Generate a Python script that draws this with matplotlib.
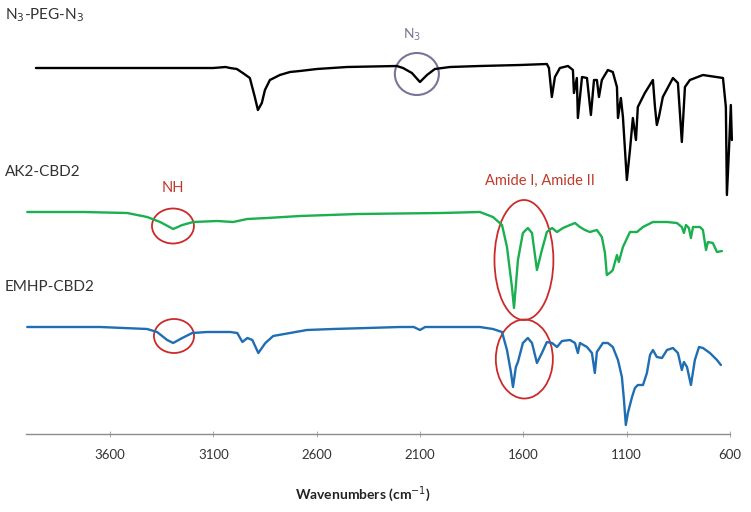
import matplotlib
matplotlib.use("Agg")
import matplotlib.pyplot as plt
from matplotlib.patches import Ellipse

plt.rcParams["font.family"] = ["Lato", "DejaVu Sans"]

# wavenumber [cm-1] and offset intensity [a.u.]
peg_wn = [3958, 3500, 3100, 3040, 3019, 2986, 2957, 2923, 2899, 2884, 2865,
          2850, 2826, 2778, 2729, 2681, 2599, 2453, 2212, 2182, 2139, 2100,
          2066, 2028, 1955, 1810, 1616, 1486, 1476, 1462, 1447, 1423, 1384,
          1360, 1355, 1341, 1336, 1316, 1292, 1273, 1258, 1244, 1234, 1220,
          1191, 1167, 1147, 1142, 1128, 1118, 1099, 1084, 1070, 1055, 1046,
          1012, 973, 963, 954, 944, 925, 876, 852, 833, 818, 794, 731, 634,
          620, 615, 605, 596, 591]
peg_val = [366, 366, 366, 367, 366, 365, 361, 356, 337, 324, 331,
           344, 354, 359, 362, 363, 365, 367, 368, 366, 361, 352,
           359, 365, 367, 368, 369, 370, 366, 337, 357, 366, 368,
           364, 341, 356, 316, 357, 356, 319, 354, 354, 337, 354,
           364, 362, 347, 316, 336, 317, 254, 284, 316, 294, 327,
           341, 354, 327, 309, 317, 337, 356, 351, 292, 347, 354, 359, 356,
           327, 239, 284, 329, 294]

ak2_wn = [4000, 3729, 3516, 3420, 3357, 3294, 3250, 3197, 3081, 3004, 2936,
          2840, 2680, 2400, 2000, 1810, 1747, 1703, 1679, 1655, 1645, 1626,
          1602, 1578, 1558, 1534, 1510, 1486, 1461, 1437, 1408, 1374, 1350,
          1326, 1302, 1278, 1244, 1220, 1205, 1196, 1176, 1167, 1147, 1138,
          1118, 1084, 1050, 1021, 973, 905, 857, 833, 823, 813, 799, 789,
          779, 745, 731, 716, 707, 683, 663, 639]
ak2_val = [222, 222, 221, 217, 212, 205, 209, 212, 213, 212, 215,
           216, 218, 220, 221, 222, 217, 209, 187, 147, 126, 174,
           201, 206, 201, 164, 184, 202, 206, 202, 206, 209, 211,
           207, 204, 202, 204, 197, 181, 159, 162, 164, 179, 172,
           187, 202, 202, 207, 212, 212, 211, 207, 201, 209, 206, 196,
           207, 207, 204, 184, 192, 191, 182, 183]

emhp_wn = [4000, 3647, 3420, 3372, 3323, 3294, 3250, 3202, 3129, 3018, 2984,
           2959, 2935, 2911, 2882, 2848, 2810, 2729, 2647, 2521, 2356, 2197,
           2130, 2100, 2075, 1810, 1747, 1703, 1679, 1660, 1650, 1636, 1626,
           1602, 1578, 1558, 1534, 1510, 1486, 1461, 1437, 1413, 1374, 1350,
           1336, 1326, 1292, 1268, 1254, 1244, 1215, 1191, 1167, 1142, 1123,
           1113, 1104, 1094, 1074, 1060, 1046, 1021, 1002, 987, 973, 954,
           929, 905, 876, 852, 833, 823, 808, 789, 770, 750, 731, 697, 663, 644]
emhp_val = [107, 107, 105, 102, 94, 91, 96, 101, 102, 102, 101,
            92, 96, 94, 81, 91, 98, 101, 104, 105, 106, 107,
            107, 104, 107, 107, 105, 102, 84, 62, 47, 67, 72,
            91, 96, 91, 71, 81, 92, 91, 87, 93, 94, 91,
            81, 91, 87, 81, 61, 82, 91, 91, 87, 74, 57,
            34, 9, 21, 37, 46, 49, 49, 61, 79, 84, 77,
            76, 84, 86, 81, 64, 72, 67, 49, 74, 87, 86, 81, 74, 69]

series_names = [r"N$_3$-PEG-N$_3$", "AK2-CBD2", "EMHP-CBD2"]
xticks = [3600, 3100, 2600, 2100, 1600, 1100, 600]

fig = plt.figure(figsize=(7.51, 5.12), dpi=100)
ax = fig.add_axes([26 / 751, 1 - 434 / 512, (730 - 26) / 751, 434 / 512])

line_kw = dict(lw=1.7, clip_on=False, solid_joinstyle="round",
               solid_capstyle="round")
ax.plot(peg_wn, peg_val, color="black", **line_kw)
ax.plot(ak2_wn, ak2_val, color="#1aaf4f", **line_kw)
ax.plot(emhp_wn, emhp_val, color="#1f6db3", **line_kw)

ax.set_xlim(4006, 600)
ax.set_ylim(0, 434)
ax.set_xticks(xticks)
ax.set_xticklabels([str(t) for t in xticks], fontsize=9.5, color="#333333")
ax.tick_params(axis="x", direction="inout", length=4, width=0.7,
               color="#aaaaaa", pad=9)
ax.set_yticks([])
for s in ["left", "right", "top"]:
    ax.spines[s].set_visible(False)
ax.spines["bottom"].set_color("#8c8c8c")
ax.spines["bottom"].set_linewidth(1.0)

# annotations
red = "#cc2a2a"
ax.add_patch(Ellipse((2115, 360), 213, 42, fill=False, ec="#7c7498", lw=1.5))
ax.text(2139, 399, r"N$_3$", color="#777790", fontsize=10, ha="center", va="center")

ax.add_patch(Ellipse((3295, 208), 203, 35, fill=False, ec=red, lw=1.3))
ax.text(3295, 246, "NH", color="#c0392b", fontsize=10.5, ha="center", va="center")
ax.add_patch(Ellipse((1597, 174), 285, 120, fill=False, ec=red, lw=1.3))
ax.text(1520, 253, "Amide I, Amide II", color="#c0392b", fontsize=10.5,
        ha="center", va="center")

ax.add_patch(Ellipse((3290, 98), 194, 34, fill=False, ec=red, lw=1.3))
ax.add_patch(Ellipse((1595, 75), 276, 79, fill=False, ec=red, lw=1.3))

# series names
for name, ypix in zip(series_names, [15, 172, 287]):
    fig.text(5 / 751, 1 - ypix / 512, name, fontsize=11, color="#333333",
             ha="left", va="center")

fig.text(363 / 751, 1 - 494 / 512, "Wavenumbers (cm$^{-1}$)", fontsize=10,
         fontweight="bold", color="#222222", ha="center", va="center")

fig.savefig("out.png", dpi=100)
